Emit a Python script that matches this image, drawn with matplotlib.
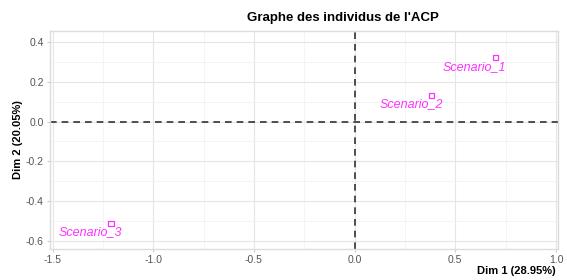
import numpy as np
import matplotlib.pyplot as plt
from matplotlib.ticker import MultipleLocator

plt.rcParams['font.family'] = ['Liberation Sans', 'DejaVu Sans']

# individual coordinates on the first two dimensions
labels = ['Scenario_1', 'Scenario_2', 'Scenario_3']
dim1 = [0.70, 0.38, -1.21]
dim2 = [0.32, 0.13, -0.51]
# label offsets (points) like ggrepel placement
offsets = [(-15, -6.5), (-14.5, -6), (-14.5, -6.5)]

fig = plt.figure(figsize=(5.67, 2.8), dpi=100)
ax = fig.add_axes([50 / 567, 31 / 280, 508 / 567, 218 / 280])

ax.set_xlim(-1.5125, 1.01)
ax.set_ylim(-0.64, 0.455)
ax.xaxis.set_major_locator(MultipleLocator(0.5))
ax.xaxis.set_minor_locator(MultipleLocator(0.25))
ax.yaxis.set_major_locator(MultipleLocator(0.2))
ax.yaxis.set_minor_locator(MultipleLocator(0.1))
ax.grid(which='major', color='#e6e6e6', lw=0.8)
ax.grid(which='minor', color='#f2f2f2', lw=0.6)
ax.set_axisbelow(True)
for s in ax.spines.values():
    s.set_color('#dcdcdc')
    s.set_linewidth(1.0)
ax.tick_params(which='both', length=0)
ax.tick_params(which='major', length=2.5, color='#cccccc', labelsize=7.5,
               labelcolor='#555555', pad=2)
ax.xaxis.set_major_formatter(plt.FuncFormatter(lambda v, p: f'{v:.1f}'))
ax.yaxis.set_major_formatter(plt.FuncFormatter(lambda v, p: f'{v:.1f}'))

ax.axhline(0, color='#333333', lw=1.2, ls=(0, (4, 3)))
ax.axvline(0, color='#333333', lw=1.2, ls=(0, (4, 3)))

ax.scatter(dim1, dim2, marker='s', s=14, facecolors='none',
           edgecolors='#ff33ff', linewidths=0.9, zorder=3)
for lab, x, y, off in zip(labels, dim1, dim2, offsets):
    ax.annotate(lab, (x, y), xytext=off, textcoords='offset points',
                ha='center', va='center', color='#ff33ff', fontsize=9,
                style='italic')

fig.text(343 / 567, 1 - 18 / 280, "Graphe des individus de l'ACP",
         ha='center', va='center', fontsize=9.5, fontweight='bold')
fig.text(18 / 567, 1 - 140 / 280, 'Dim 2 (20.05%)', rotation=90,
         ha='center', va='center', fontsize=8, fontweight='bold')
fig.text(556 / 567, 1 - 271 / 280, 'Dim 1 (28.95%)',
         ha='right', va='center', fontsize=8, fontweight='bold')

fig.savefig('out.png', dpi=100)
